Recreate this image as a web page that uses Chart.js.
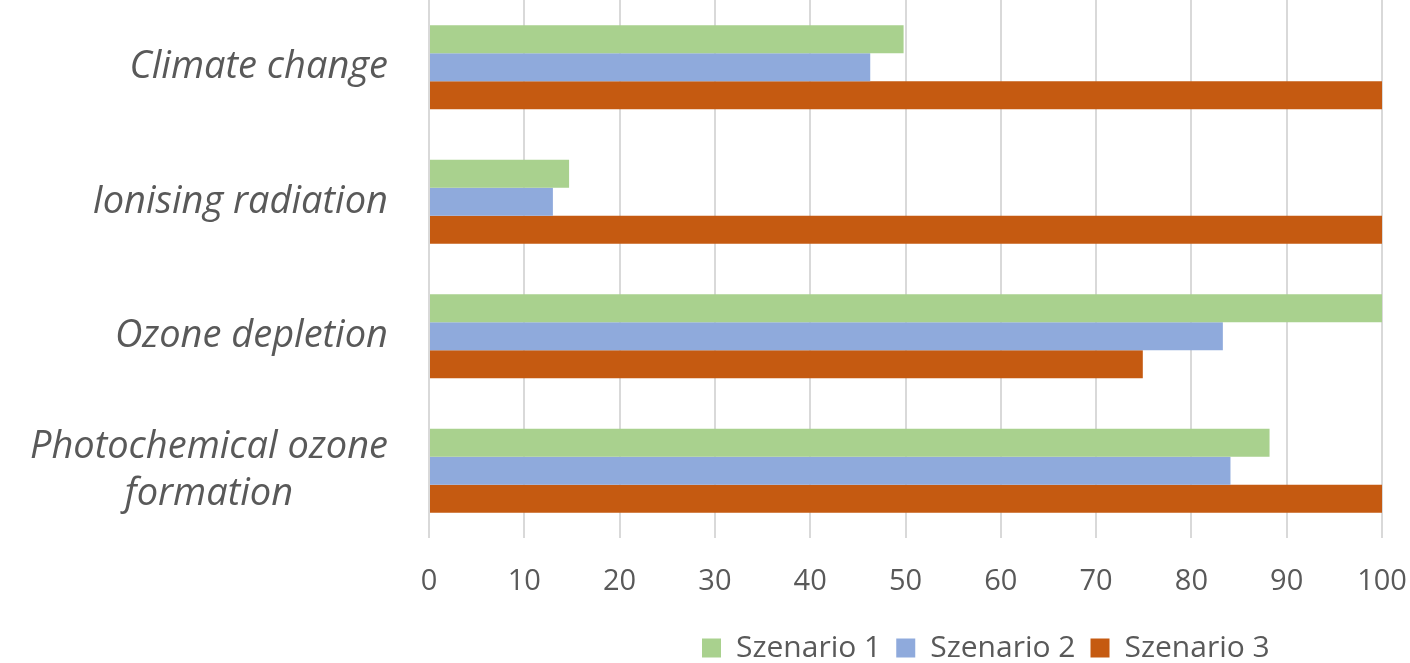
<!DOCTYPE html>
<html>
<head>
<meta charset="utf-8">
<script src="https://cdn.jsdelivr.net/npm/chart.js@4.4.1/dist/chart.umd.min.js"></script>
<style>
  html, body { margin: 0; padding: 0; background: #ffffff; }
  canvas { display: block; }
</style>
</head>
<body>
<canvas id="impactChart" width="1410" height="663"></canvas>
<script>
// Impact categories (multi-line label given as an array of lines)
const CATEGORIES = ['Climate change', 'Ionising radiation', 'Ozone depletion', ['Photochemical ozone', 'formation']];
const SERIES_NAMES = ['Szenario 1', 'Szenario 2', 'Szenario 3'];
// Relative results per category, in percent of the highest scenario
const SZENARIO_1 = [49.8, 14.7, 100, 88.2];
const SZENARIO_2 = [46.3, 13.0, 83.3, 84.1];
const SZENARIO_3 = [100, 100, 74.9, 100];
const X_TICKS = [0, 10, 20, 30, 40, 50, 60, 70, 80, 90, 100];

const COLORS = ['#A9D18E', '#8FAADC', '#C55A11'];
const TEXT_COLOR = '#595959';
const FONT = "'Open Sans', 'Liberation Sans', sans-serif";
const LEGEND_FONT_SIZE = 30;

// Category names to the left of the plot: each block right-aligned,
// lines of a wrapped name centred on one another.
const categoryLabels = {
  id: 'categoryLabels',
  afterDraw(chart, args, opts) {
    const yScale = chart.scales.y;
    const ctx = chart.ctx;
    const right = chart.chartArea.left - opts.gap;
    ctx.save();
    ctx.font = `italic ${opts.size}px ${FONT}`;
    ctx.fillStyle = opts.color;
    ctx.textAlign = 'center';
    ctx.textBaseline = 'middle';
    chart.data.labels.forEach((label, i) => {
      const lines = [].concat(label);
      const widest = Math.max(...lines.map(l => ctx.measureText(l).width));
      const cx = right - widest / 2;
      const cy = yScale.getPixelForValue(i);
      lines.forEach((line, j) => {
        ctx.fillText(line, cx, cy + (j - (lines.length - 1) / 2) * opts.lineGap);
      });
    });
    ctx.restore();
  }
};

// Places the legend row under the right part of the plot.
const legendPlacement = {
  id: 'legendPlacement',
  afterLayout(chart, args, opts) {
    const lg = chart.legend;
    if (!lg) return;
    const pad = lg.options.labels.padding;
    const itemH = Math.max(lg.options.labels.boxHeight, opts.fontSize);
    const dx = opts.rowLeft - (lg.left + pad);
    const dy = opts.rowMiddle - (lg.top + pad + itemH / 2);
    lg.left += dx; lg.right += dx;
    lg.top += dy; lg.bottom += dy;
  }
};

const seriesValues = [SZENARIO_1, SZENARIO_2, SZENARIO_3];

new Chart(document.getElementById('impactChart'), {
  type: 'bar',
  data: {
    labels: CATEGORIES,
    datasets: SERIES_NAMES.map((name, k) => ({
      label: name,
      data: seriesValues[k],
      backgroundColor: COLORS[k],
      borderWidth: 0,
      barPercentage: 1.0,
      categoryPercentage: 0.625
    }))
  },
  options: {
    indexAxis: 'y',
    responsive: false,
    animation: false,
    events: [],
    layout: { padding: { left: 0, right: 28, top: 0, bottom: 9 } },
    scales: {
      x: {
        min: 0,
        max: 100,
        afterBuildTicks: s => { s.ticks = X_TICKS.map(v => ({ value: v })); },
        grid: { color: '#D9D9D9', lineWidth: 2, drawTicks: false },
        border: { display: false },
        ticks: { color: TEXT_COLOR, font: { family: FONT, size: 29 }, padding: 26 },
        // gap above the labels only; the right margin comes from the layout padding
        afterFit: s => { s.height = 61; s.paddingRight = 0; }
      },
      y: {
        grid: { display: false },
        border: { display: false },
        ticks: { display: false },
        afterFit: s => { s.width = 429; }
      }
    },
    plugins: {
      tooltip: { enabled: false },
      legend: {
        position: 'bottom',
        align: 'start',
        labels: {
          color: TEXT_COLOR,
          font: { family: FONT, size: LEGEND_FONT_SIZE },
          boxWidth: 19,
          boxHeight: 19,
          padding: 15
        }
      },
      legendPlacement: { rowLeft: 702, rowMiddle: 648, fontSize: LEGEND_FONT_SIZE },
      categoryLabels: { size: 38, color: TEXT_COLOR, gap: 41, lineGap: 47 }
    }
  },
  plugins: [categoryLabels, legendPlacement]
});
</script>
</body>
</html>
